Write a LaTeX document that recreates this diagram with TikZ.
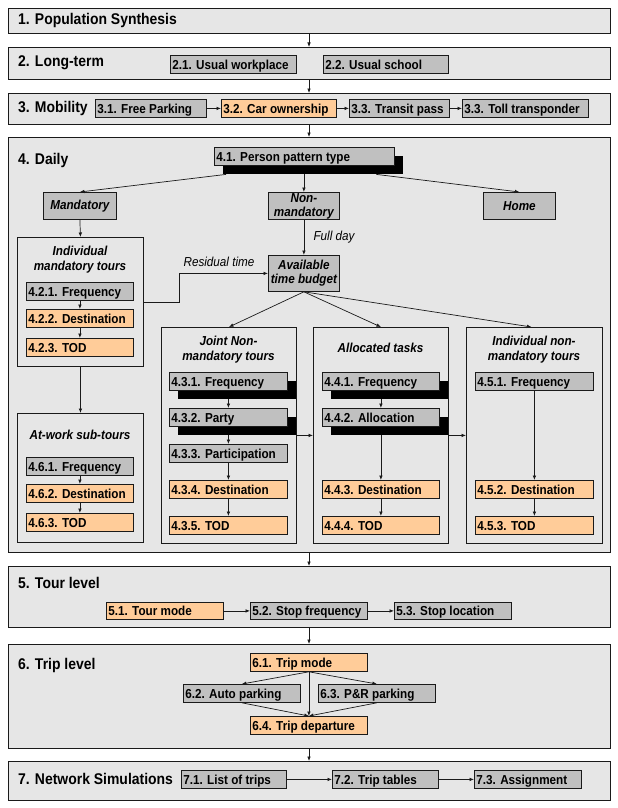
\documentclass[tikz,border=0pt]{standalone}
\usepackage{fontspec}
\setmainfont{Liberation Sans}[FakeStretch=0.9]
\usetikzlibrary{arrows.meta,calc}
\definecolor{bandc}{HTML}{E6E6E6}
\definecolor{grayc}{HTML}{C0C0C0}
\definecolor{orc}{HTML}{FFCC99}
\definecolor{linec}{HTML}{1A1A1A}
\tikzset{
 band/.style={draw=linec, fill=bandc, line width=1pt, inner sep=0pt},
 cont/.style={draw=linec, fill=bandc, line width=0.9pt, inner sep=0pt},
 gbox/.style={draw=linec, fill=grayc, line width=0.8pt, font=\fontsize{13}{14}\selectfont\bfseries, text height=9.3pt, text depth=0pt},
 obox/.style={draw=linec, fill=orc, line width=0.8pt, font=\fontsize{13}{14}\selectfont\bfseries, text height=9.3pt, text depth=0pt},
 ibox/.style={draw=linec, fill=grayc, line width=0.8pt, font=\fontsize{13}{14}\selectfont\bfseries\itshape, align=center, inner sep=0pt, anchor=north west},
 shad/.style={fill=black, draw=none},
 hd/.style={font=\fontsize{15.5}{17}\selectfont\bfseries, anchor=west, inner sep=0pt},
 ttl/.style={font=\fontsize{13}{14.5}\selectfont\bfseries\itshape, align=center, inner sep=0pt},
 lbl/.style={font=\fontsize{13}{14}\selectfont\itshape, inner sep=0pt},
 arr/.style={-{Latex[length=4.5pt,width=3.6pt]}, line width=0.7pt, draw=linec},
}
% #1 style, #2 name, #3 x, #4 y, #5 w, #6 h, #7 text
\newcommand\bxn[7]{\node[#1, anchor=north west, minimum width=#5pt, minimum height=#6pt, inner xsep=2pt, inner ysep=0pt] (#2) at (#3,#4) {\makebox[\dimexpr#5pt-4pt\relax][l]{#7}};}
\newcommand\sbxn[7]{\node[shad, anchor=north west, minimum width=#5pt, minimum height=#6pt, inner sep=0pt] (#2s) at ({#3+9},{#4+9}) {};\bxn{#1}{#2}{#3}{#4}{#5}{#6}{#7}}
\newcommand\contn[5]{\node[cont, anchor=north west, minimum width=#4pt, minimum height=#5pt] (#1) at (#2,#3) {};}
\begin{document}
\begin{tikzpicture}[x=1pt,y=-1pt]
\useasboundingbox[fill=white] (0,0) rectangle (618,808);
\coordinate (cx) at (309,0);
% bands
\node[band, anchor=north west, minimum width=602pt, minimum height=25pt] (b1) at (8,8) {};
\node[band, anchor=north west, minimum width=602pt, minimum height=32pt] (b2) at (8,47) {};
\node[band, anchor=north west, minimum width=602pt, minimum height=31pt] (b3) at (8,93) {};
\node[band, anchor=north west, minimum width=602pt, minimum height=415pt] (b4) at (8,137) {};
\node[band, anchor=north west, minimum width=602pt, minimum height=61pt] (b5) at (8,566) {};
\node[band, anchor=north west, minimum width=602pt, minimum height=104pt] (b6) at (8,644) {};
\node[band, anchor=north west, minimum width=602pt, minimum height=39pt] (b7) at (8,761) {};
% headings
\node[hd] (h1) at (18,20.5) {1. Population Synthesis};
\node[hd] (h2) at (18,63) {2. Long-term};
\node[hd] (h3) at (18,108) {3. Mobility};
\node[hd] (h4) at (18,160) {4. Daily};
\node[hd] (h5) at (18,583) {5. Tour level};
\node[hd] (h6) at (18,665) {6. Trip level};
\node[hd] (h7) at (18,779) {7. Network Simulations};
% band 2
\bxn{gbox}{n21}{170}{55}{126}{18}{2.1. Usual workplace}
\bxn{gbox}{n22}{323}{55}{125}{18}{2.2. Usual school}
% band 3
\bxn{gbox}{n31}{95}{99}{111}{18}{3.1. Free Parking}
\bxn{obox}{n32}{221}{99}{115}{18}{3.2. Car ownership}
\bxn{gbox}{n33}{349}{99}{100}{18}{3.3. Transit pass}
\bxn{gbox}{n34}{462}{99}{126}{18}{3.3. Toll transponder}
% band 4
\sbxn{gbox}{n41}{214}{147}{180}{18}{4.1. Person pattern type}
\node[ibox, minimum width=73pt, minimum height=27pt] (man) at (43,192) {Mandatory};
\node[ibox, minimum width=71pt, minimum height=27pt] (nonman) at (268,192) {Non-\\mandatory};
\node[ibox, minimum width=72pt, minimum height=27pt] (home) at (483,192) {Home};
\node[ibox, minimum width=71pt, minimum height=36pt] (avail) at (268,255) {Available\\time budget};
% containers
\contn{cim}{17}{237}{126}{129}
\contn{atw}{17}{413}{126}{129}
\contn{joint}{161}{327}{135}{216}
\contn{alloc}{313}{327}{135}{216}
\contn{ind}{466}{327}{136}{216}
\node[ttl] (cimt) at (80,259.5) {Individual\\mandatory tours};
\node[ttl] (atwt) at (80,435) {At-work sub-tours};
\node[ttl] (jointt) at (228.5,349.5) {Joint Non-\\mandatory tours};
\node[ttl] (alloct) at (380.5,348) {Allocated tasks};
\node[ttl] (indt) at (534,349.5) {Individual non-\\mandatory tours};
% boxes in containers
\bxn{gbox}{n421}{26}{282}{107}{18}{4.2.1. Frequency}
\bxn{obox}{n422}{26}{309}{107}{18}{4.2.2. Destination}
\bxn{obox}{n423}{26}{338}{107}{18}{4.2.3. TOD}
\bxn{gbox}{n461}{26}{457}{107}{18}{4.6.1. Frequency}
\bxn{obox}{n462}{26}{484}{107}{18}{4.6.2. Destination}
\bxn{obox}{n463}{26}{513}{107}{18}{4.6.3. TOD}
\sbxn{gbox}{n431}{169}{372}{118}{18}{4.3.1. Frequency}
\sbxn{gbox}{n432}{169}{408}{118}{18}{4.3.2. Party}
\bxn{gbox}{n433}{169}{444}{118}{18}{4.3.3. Participation}
\bxn{obox}{n434}{169}{480}{118}{18}{4.3.4. Destination}
\bxn{obox}{n435}{169}{516}{118}{18}{4.3.5. TOD}
\sbxn{gbox}{n441}{322}{372}{117}{18}{4.4.1. Frequency}
\sbxn{gbox}{n442}{322}{408}{117}{18}{4.4.2. Allocation}
\bxn{obox}{n443}{322}{480}{117}{18}{4.4.3. Destination}
\bxn{obox}{n444}{322}{516}{117}{18}{4.4.4. TOD}
\bxn{gbox}{n451}{475}{372}{118}{18}{4.5.1. Frequency}
\bxn{obox}{n452}{475}{480}{118}{18}{4.5.2. Destination}
\bxn{obox}{n453}{475}{516}{118}{18}{4.5.3. TOD}
% band 5
\bxn{obox}{n51}{106}{602}{117}{17}{5.1. Tour mode}
\bxn{gbox}{n52}{250}{602}{117}{17}{5.2. Stop frequency}
\bxn{gbox}{n53}{394}{602}{117}{17}{5.3. Stop location}
% band 6
\bxn{obox}{n61}{250}{653}{117}{18}{6.1. Trip mode}
\bxn{gbox}{n62}{183}{684}{117}{18}{6.2. Auto parking}
\bxn{gbox}{n63}{318}{684}{117}{18}{6.3. P\&R parking}
\bxn{obox}{n64}{250}{716}{117}{18}{6.4. Trip departure}
% band 7
\bxn{gbox}{n71}{181}{770}{105}{18}{7.1. List of trips}
\bxn{gbox}{n72}{332}{770}{106}{18}{7.2. Trip tables}
\bxn{gbox}{n73}{474}{770}{107}{18}{7.3. Assignment}
% labels
\node[lbl] (fullday) at (334,237) {Full day};
\node[lbl] (resid) at (219,262) {Residual time};
% connectors between bands
\draw[arr] (b1.south -| cx) -- (b2.north -| cx);
\draw[arr] (b2.south -| cx) -- (b3.north -| cx);
\draw[arr] (b3.south -| cx) -- (b4.north -| cx);
\draw[arr] (b4.south -| cx) -- (b5.north -| cx);
\draw[arr] (b5.south -| cx) -- (b6.north -| cx);
\draw[arr] (b6.south -| cx) -- (b7.north -| cx);
% band 3
\draw[arr] (n31) -- (n32);
\draw[arr] (n32) -- (n33);
\draw[arr] (n33) -- (n34);
% band 4
\draw[arr] ([xshift=3pt]n41s.south west) -- (man.north);
\draw[arr] (n41s.south -| nonman.north) -- (nonman.north);
\draw[arr] ([xshift=-27pt]n41s.south east) -- (home.north);
\draw[arr] (man.south) -- (cim.north);
\draw[arr] (nonman.south) -- (avail.north);
\draw[arr] (cim.east) -- ++(35,0) |- (avail.west);
\draw[arr] (avail.south) -- (joint.north);
\draw[arr] (avail.south) -- (alloc.north);
\draw[arr] (avail.south) -- ([xshift=-3pt]ind.north);
\draw[arr] (cim.south) -- (atw.north);
\draw[arr] (n421) -- (n422);
\draw[arr] (n422) -- (n423);
\draw[arr] (n461) -- (n462);
\draw[arr] (n462) -- (n463);
\draw[arr] (n431.south |- n431s.south) -- (n432.north);
\draw[arr] (n432.south |- n432s.south) -- (n433.north);
\draw[arr] (n433) -- (n434);
\draw[arr] (n434) -- (n435);
\draw[arr] (n441.south |- n441s.south) -- (n442.north);
\draw[arr] (n442.south |- n442s.south) -- (n443.north);
\draw[arr] (n443) -- (n444);
\draw[arr] (n451) -- (n452);
\draw[arr] (n452) -- (n453);
\draw[arr] (n432s.south east) -- (n432s.south east -| alloc.west);
\draw[arr] (n442s.south east) -- (n442s.south east -| ind.west);
% band 5
\draw[arr] (n51) -- (n52);
\draw[arr] (n52) -- (n53);
% band 6
\draw[arr] (n61.south) -- (n62.north);
\draw[arr] (n61.south) -- (n63.north);
\draw[arr] (n61.south) -- (n64.north);
\draw[arr] (n62.south) -- (n64.north);
\draw[arr] (n63.south) -- (n64.north);
% band 7
\draw[arr] (n71) -- (n72);
\draw[arr] (n72) -- (n73);
\end{tikzpicture}
\end{document}
